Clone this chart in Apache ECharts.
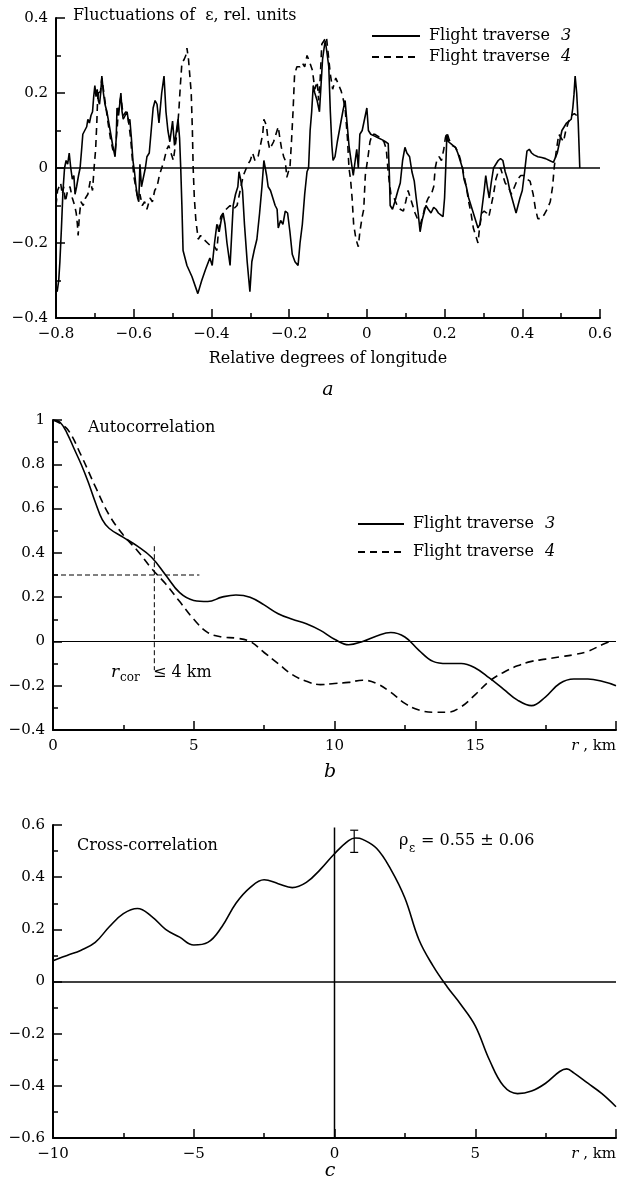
<!DOCTYPE html>
<html><head><meta charset="utf-8">
<script src="https://cdn.jsdelivr.net/npm/echarts@6/dist/echarts.min.js"></script>
<style>html,body{margin:0;padding:0;background:#fff}#c{width:619px;height:1191px}</style>
</head><body><div id="c"></div>
<script>
// ---------- Panel a: fluctuations of epsilon vs relative longitude ----------
const trav3Fluct = [[-0.800,-0.32],[-0.797,-0.33],[-0.793,-0.30],[-0.790,-0.25],[-0.786,-0.16],[-0.782,-0.06],[-0.778,0.00],[-0.774,0.02],[-0.770,0.01],[-0.766,0.04],[-0.762,0.00],[-0.758,-0.03],[-0.754,-0.02],[-0.751,-0.07],[-0.747,-0.05],[-0.742,-0.02],[-0.738,0.00],[-0.734,0.05],[-0.731,0.09],[-0.726,0.10],[-0.721,0.11],[-0.718,0.13],[-0.714,0.12],[-0.710,0.14],[-0.706,0.15],[-0.703,0.19],[-0.700,0.22],[-0.697,0.19],[-0.694,0.21],[-0.691,0.18],[-0.688,0.17],[-0.685,0.20],[-0.682,0.245],[-0.678,0.20],[-0.674,0.17],[-0.669,0.15],[-0.664,0.12],[-0.659,0.09],[-0.654,0.06],[-0.648,0.03],[-0.645,0.08],[-0.643,0.16],[-0.639,0.14],[-0.636,0.17],[-0.633,0.20],[-0.630,0.15],[-0.627,0.13],[-0.622,0.14],[-0.617,0.15],[-0.613,0.12],[-0.610,0.13],[-0.606,0.08],[-0.602,0.02],[-0.598,-0.01],[-0.594,-0.05],[-0.590,-0.08],[-0.587,-0.09],[-0.584,0.01],[-0.580,-0.05],[-0.576,-0.03],[-0.570,0.00],[-0.566,0.03],[-0.560,0.04],[-0.555,0.10],[-0.550,0.16],[-0.545,0.18],[-0.540,0.17],[-0.535,0.12],[-0.528,0.20],[-0.522,0.245],[-0.517,0.15],[-0.512,0.10],[-0.507,0.07],[-0.500,0.125],[-0.495,0.06],[-0.490,0.10],[-0.486,0.13],[-0.482,0.08],[-0.479,0.00],[-0.476,-0.10],[-0.473,-0.22],[-0.468,-0.24],[-0.463,-0.26],[-0.450,-0.29],[-0.435,-0.335],[-0.425,-0.30],[-0.415,-0.27],[-0.404,-0.24],[-0.398,-0.26],[-0.392,-0.20],[-0.386,-0.15],[-0.380,-0.17],[-0.375,-0.14],[-0.370,-0.12],[-0.365,-0.15],[-0.360,-0.20],[-0.352,-0.26],[-0.348,-0.18],[-0.344,-0.10],[-0.338,-0.07],[-0.332,-0.05],[-0.329,-0.01],[-0.325,-0.03],[-0.320,-0.06],[-0.315,-0.15],[-0.308,-0.25],[-0.301,-0.33],[-0.296,-0.25],[-0.290,-0.22],[-0.283,-0.19],[-0.276,-0.12],[-0.270,-0.05],[-0.265,0.02],[-0.262,0.025],[-0.258,-0.02],[-0.254,-0.05],[-0.248,-0.06],[-0.242,-0.08],[-0.236,-0.10],[-0.231,-0.11],[-0.228,-0.16],[-0.222,-0.14],[-0.216,-0.15],[-0.210,-0.115],[-0.204,-0.12],[-0.198,-0.17],[-0.192,-0.23],[-0.185,-0.25],[-0.177,-0.26],[-0.172,-0.20],[-0.166,-0.15],[-0.160,-0.07],[-0.154,-0.01],[-0.150,0.00],[-0.146,0.10],[-0.142,0.15],[-0.138,0.22],[-0.134,0.20],[-0.128,0.18],[-0.122,0.15],[-0.118,0.22],[-0.114,0.29],[-0.110,0.32],[-0.107,0.34],[-0.103,0.31],[-0.098,0.27],[-0.094,0.15],[-0.090,0.06],[-0.087,0.02],[-0.082,0.03],[-0.076,0.07],[-0.069,0.11],[-0.062,0.15],[-0.056,0.18],[-0.051,0.12],[-0.046,0.06],[-0.042,0.03],[-0.035,-0.02],[-0.030,0.02],[-0.026,0.05],[-0.022,0.00],[-0.018,0.09],[-0.012,0.10],[-0.006,0.13],[0.000,0.16],[0.004,0.10],[0.010,0.09],[0.020,0.085],[0.030,0.08],[0.040,0.075],[0.048,0.07],[0.055,0.065],[0.058,-0.02],[0.060,-0.10],[0.066,-0.11],[0.072,-0.09],[0.080,-0.06],[0.086,-0.04],[0.092,0.02],[0.098,0.055],[0.103,0.04],[0.110,0.03],[0.116,-0.01],[0.122,-0.035],[0.127,-0.08],[0.132,-0.12],[0.137,-0.17],[0.142,-0.14],[0.147,-0.12],[0.152,-0.10],[0.158,-0.11],[0.165,-0.12],[0.172,-0.105],[0.178,-0.11],[0.184,-0.12],[0.190,-0.125],[0.196,-0.13],[0.200,-0.08],[0.203,0.00],[0.206,0.09],[0.210,0.07],[0.216,0.065],[0.222,0.06],[0.228,0.055],[0.234,0.04],[0.240,0.02],[0.246,0.00],[0.250,-0.03],[0.256,-0.05],[0.262,-0.08],[0.268,-0.10],[0.274,-0.12],[0.280,-0.14],[0.286,-0.16],[0.291,-0.15],[0.296,-0.11],[0.302,-0.06],[0.306,-0.02],[0.310,-0.05],[0.315,-0.08],[0.320,-0.04],[0.326,0.00],[0.332,0.01],[0.338,0.02],[0.344,0.025],[0.350,0.02],[0.356,-0.01],[0.362,-0.03],[0.368,-0.06],[0.376,-0.09],[0.384,-0.12],[0.389,-0.12],[0.394,-0.08],[0.400,-0.06],[0.406,-0.01],[0.412,0.045],[0.418,0.05],[0.424,0.04],[0.430,0.035],[0.440,0.03],[0.450,0.028],[0.460,0.025],[0.470,0.02],[0.480,0.015],[0.484,0.02],[0.490,0.04],[0.496,0.07],[0.502,0.10],[0.508,0.11],[0.514,0.12],[0.520,0.125],[0.526,0.13],[0.530,0.16],[0.533,0.195],[0.536,0.245],[0.540,0.20],[0.544,0.12],[0.548,0.00]];
const trav4Fluct = [[-0.800,-0.10],[-0.796,-0.06],[-0.792,-0.05],[-0.788,-0.04],[-0.784,-0.07],[-0.780,-0.05],[-0.776,-0.09],[-0.770,-0.06],[-0.764,-0.05],[-0.758,-0.08],[-0.752,-0.10],[-0.748,-0.12],[-0.745,-0.15],[-0.743,-0.18],[-0.740,-0.13],[-0.736,-0.09],[-0.730,-0.10],[-0.724,-0.08],[-0.718,-0.07],[-0.712,-0.035],[-0.706,-0.06],[-0.702,0.00],[-0.698,0.05],[-0.695,0.12],[-0.693,0.18],[-0.690,0.21],[-0.686,0.20],[-0.682,0.24],[-0.678,0.21],[-0.674,0.18],[-0.670,0.15],[-0.666,0.12],[-0.660,0.08],[-0.654,0.05],[-0.648,0.04],[-0.643,0.10],[-0.639,0.16],[-0.633,0.19],[-0.627,0.14],[-0.620,0.15],[-0.614,0.13],[-0.608,0.08],[-0.604,0.03],[-0.600,-0.02],[-0.595,-0.05],[-0.590,-0.08],[-0.584,-0.07],[-0.578,-0.10],[-0.572,-0.09],[-0.566,-0.11],[-0.563,-0.115],[-0.558,-0.08],[-0.552,-0.09],[-0.546,-0.06],[-0.540,-0.05],[-0.534,-0.02],[-0.528,0.00],[-0.522,0.02],[-0.515,0.05],[-0.510,0.06],[-0.504,0.04],[-0.498,0.02],[-0.493,0.06],[-0.488,0.10],[-0.484,0.15],[-0.480,0.22],[-0.476,0.28],[-0.470,0.29],[-0.466,0.30],[-0.463,0.32],[-0.459,0.29],[-0.455,0.29],[-0.452,0.20],[-0.449,0.10],[-0.447,0.00],[-0.444,-0.08],[-0.440,-0.14],[-0.434,-0.19],[-0.428,-0.18],[-0.420,-0.19],[-0.410,-0.20],[-0.400,-0.21],[-0.392,-0.21],[-0.386,-0.22],[-0.382,-0.17],[-0.376,-0.13],[-0.370,-0.12],[-0.362,-0.11],[-0.352,-0.10],[-0.344,-0.11],[-0.334,-0.10],[-0.326,-0.06],[-0.318,-0.02],[-0.310,0.00],[-0.306,0.01],[-0.300,0.02],[-0.294,0.04],[-0.288,0.02],[-0.280,0.03],[-0.274,0.06],[-0.268,0.09],[-0.265,0.13],[-0.261,0.12],[-0.258,0.11],[-0.254,0.07],[-0.250,0.05],[-0.246,0.055],[-0.240,0.07],[-0.234,0.09],[-0.228,0.11],[-0.224,0.08],[-0.220,0.055],[-0.214,0.03],[-0.210,0.02],[-0.206,-0.025],[-0.202,-0.01],[-0.198,0.00],[-0.194,0.07],[-0.190,0.15],[-0.186,0.25],[-0.180,0.27],[-0.172,0.27],[-0.166,0.28],[-0.160,0.27],[-0.154,0.30],[-0.148,0.285],[-0.140,0.26],[-0.134,0.21],[-0.128,0.23],[-0.124,0.18],[-0.120,0.24],[-0.116,0.33],[-0.110,0.34],[-0.104,0.35],[-0.100,0.31],[-0.094,0.25],[-0.088,0.21],[-0.080,0.24],[-0.072,0.22],[-0.066,0.205],[-0.060,0.18],[-0.056,0.16],[-0.050,0.08],[-0.046,0.00],[-0.042,-0.03],[-0.038,-0.08],[-0.034,-0.15],[-0.028,-0.19],[-0.022,-0.21],[-0.018,-0.17],[-0.012,-0.13],[-0.008,-0.11],[-0.004,-0.02],[0.003,0.03],[0.008,0.07],[0.014,0.09],[0.020,0.09],[0.028,0.085],[0.036,0.08],[0.044,0.07],[0.050,0.05],[0.054,0.00],[0.058,-0.04],[0.062,-0.07],[0.070,-0.08],[0.078,-0.10],[0.086,-0.11],[0.094,-0.115],[0.100,-0.09],[0.106,-0.06],[0.112,-0.08],[0.118,-0.10],[0.124,-0.12],[0.132,-0.14],[0.138,-0.15],[0.142,-0.15],[0.146,-0.12],[0.150,-0.10],[0.158,-0.08],[0.166,-0.07],[0.172,-0.05],[0.176,0.00],[0.180,0.02],[0.186,0.03],[0.192,0.02],[0.198,0.05],[0.202,0.08],[0.206,0.095],[0.212,0.075],[0.220,0.06],[0.228,0.055],[0.236,0.04],[0.244,0.01],[0.250,-0.02],[0.256,-0.05],[0.262,-0.09],[0.268,-0.12],[0.274,-0.16],[0.280,-0.18],[0.286,-0.20],[0.290,-0.16],[0.296,-0.12],[0.302,-0.115],[0.308,-0.12],[0.314,-0.13],[0.320,-0.10],[0.326,-0.07],[0.332,-0.03],[0.338,-0.01],[0.344,0.00],[0.350,-0.02],[0.356,-0.04],[0.364,-0.05],[0.372,-0.07],[0.380,-0.05],[0.388,-0.03],[0.396,-0.02],[0.404,-0.02],[0.412,-0.03],[0.420,-0.035],[0.428,-0.07],[0.434,-0.11],[0.440,-0.135],[0.448,-0.135],[0.456,-0.125],[0.464,-0.11],[0.472,-0.09],[0.478,-0.05],[0.482,0.00],[0.488,0.05],[0.494,0.09],[0.500,0.08],[0.506,0.07],[0.512,0.10],[0.518,0.12],[0.526,0.14],[0.534,0.145],[0.540,0.14]];

// ---------- Panel b: autocorrelation ----------
const autoR3 = [0,0.25,0.5,0.75,1,1.25,1.5,1.75,2,2.5,3,3.5,4,4.5,5,5.5,6,6.5,7,7.5,8,8.5,9,9.5,10,10.5,11,11.5,12,12.5,13,13.5,14,14.5,15,15.5,16,16.5,17,17.5,18,18.5,19,19.5,20];
const auto3 = [1,0.99,0.94,0.87,0.80,0.72,0.63,0.55,0.51,0.47,0.43,0.38,0.30,0.22,0.185,0.18,0.20,0.21,0.20,0.165,0.125,0.10,0.08,0.05,0.01,-0.015,0.0,0.025,0.04,0.02,-0.04,-0.09,-0.10,-0.10,-0.12,-0.165,-0.215,-0.265,-0.29,-0.25,-0.19,-0.17,-0.17,-0.18,-0.20];
const autoR4 = [0,0.5,1,1.5,2,2.5,3,3.5,4,4.5,5,5.5,6,6.5,7,7.5,8,8.5,9,9.5,10,10.5,11,11.5,12,12.5,13,13.5,14,14.5,15,15.5,16,16.5,17,17.5,18,18.5,19,19.5,19.8];
const auto4 = [1,0.96,0.84,0.70,0.57,0.48,0.41,0.33,0.26,0.18,0.10,0.04,0.02,0.015,0.0,-0.05,-0.10,-0.15,-0.18,-0.195,-0.19,-0.185,-0.175,-0.19,-0.23,-0.28,-0.31,-0.32,-0.32,-0.295,-0.24,-0.18,-0.14,-0.11,-0.09,-0.08,-0.07,-0.06,-0.045,-0.015,0.0];
const rcorHorizontal = [[0,0.3],[5.2,0.3]];
const rcorVertical = [[3.6,0.43],[3.6,-0.13]];

// ---------- Panel c: cross-correlation ----------
const crossR = [-10,-9.5,-9,-8.5,-8,-7.5,-7,-6.5,-6,-5.5,-5,-4.5,-4,-3.5,-3,-2.5,-2,-1.5,-1,-0.5,0,0.5,0.75,1,1.5,2,2.5,3,3.5,4,4.5,5,5.5,6,6.5,7,7.5,8,8.25,8.5,9,9.5,10];
const crossVal = [0.08,0.10,0.12,0.15,0.21,0.26,0.28,0.25,0.20,0.17,0.14,0.15,0.21,0.30,0.36,0.39,0.375,0.36,0.38,0.43,0.49,0.54,0.55,0.545,0.51,0.43,0.32,0.16,0.06,-0.02,-0.09,-0.17,-0.30,-0.40,-0.43,-0.42,-0.39,-0.345,-0.335,-0.35,-0.39,-0.43,-0.48];
const crossErr = [[0.7,0.495,0.58]];
const crossZeroVertical = [[0,-0.6],[0,0.59]];

// axis ranges / tick steps
const axA = {xMin:-0.8, xMax:0.6, xStep:0.2, yMin:-0.4, yMax:0.4, yStep:0.2};
const axB = {xMin:0, xMax:20, xStep:5, yMin:-0.4, yMax:1, yStep:0.2};
const axC = {xMin:-10, xMax:10, xStep:5, yMin:-0.6, yMax:0.6, yStep:0.2};

const FONT = '"DejaVu Serif", "Liberation Serif", serif';
const fmt = v => String(Math.round(v*100)/100).replace('-', '\u2212');
const pair = (xs, ys) => xs.map((x,i)=>[x, ys[i]]);

function xAxisCfg(gi, ax, lastLabel){
  return {type:'value', gridIndex:gi, min:ax.xMin, max:ax.xMax, interval:ax.xStep,
    axisLine:{show:true, onZero:false, lineStyle:{color:'#000', width:2}},
    axisTick:{show:true, inside:true, length:9, lineStyle:{color:'#000', width:1.5}},
    minorTick:{show:true, splitNumber:2, length:5, lineStyle:{color:'#000', width:1.5}},
    splitLine:{show:false},
    axisLabel:{color:'#000', fontFamily:FONT, fontSize:15, margin:9,
      alignMaxLabel: lastLabel ? 'right' : null,
      formatter: v => (lastLabel && Math.abs(v-ax.xMax)<1e-9) ? '{i|r} , km' : fmt(v),
      rich:{i:{fontStyle:'italic', fontFamily:FONT, fontSize:15, color:'#000'}}}
  };
}
function yAxisCfg(gi, ax){
  return {type:'value', gridIndex:gi, min:ax.yMin, max:ax.yMax, interval:ax.yStep,
    axisLine:{show:true, onZero:false, lineStyle:{color:'#000', width:2}},
    axisTick:{show:true, inside:true, length:9, lineStyle:{color:'#000', width:1.5}},
    minorTick:{show:true, splitNumber:2, length:5, lineStyle:{color:'#000', width:1.5}},
    splitLine:{show:false},
    axisLabel:{color:'#000', fontFamily:FONT, fontSize:15, margin:8, formatter: fmt}
  };
}

const legendText = {color:'#000', fontFamily:FONT, fontSize:16, padding:[0,0,0,4],
  rich:{i:{fontStyle:'italic', fontFamily:FONT, fontSize:16, color:'#000', padding:[0,0,0,6]}}};
const legendFmt = n => n.replace(/\s(\d)$/, ' {i|$1}');
const legendItem = {color:'transparent', borderColor:'transparent', borderWidth:0, opacity:0};

const chart = echarts.init(document.getElementById('c'), null, {renderer:'canvas'});
const zeroLine = w => ({silent:true, symbol:['none','none'], label:{show:false},
  lineStyle:{color:'#000', width:w, type:'solid'}, emphasis:{disabled:true}, data:[{yAxis:0}]});

chart.setOption({
  animation:false,
  backgroundColor:'#fff',
  grid:[
    {left:56, top:18, width:544, height:300},
    {left:53, top:420, width:565, height:310},
    {left:53, top:825, width:565, height:313}
  ],
  xAxis:[
    Object.assign(xAxisCfg(0, axA, false), {name:'Relative degrees of longitude', nameLocation:'middle', nameGap:33,
      nameTextStyle:{color:'#000', fontFamily:FONT, fontSize:16}}),
    xAxisCfg(1, axB, true),
    xAxisCfg(2, axC, true)
  ],
  yAxis:[yAxisCfg(0, axA), yAxisCfg(1, axB), yAxisCfg(2, axC)],
  legend:[
    {data:['Flight traverse 3','Flight traverse 4'], orient:'vertical', left:366, top:23,
      itemWidth:48, itemHeight:12, itemGap:5, selectedMode:false, formatter:legendFmt, textStyle:legendText,
      itemStyle:legendItem},
    {data:['Flight traverse 3','Flight traverse 4'], orient:'vertical', left:352, top:511,
      itemWidth:46, itemHeight:12, itemGap:12, selectedMode:false, formatter:legendFmt, textStyle:legendText,
      itemStyle:legendItem}
  ],
  series:[
    {name:'Flight traverse 3', type:'line', xAxisIndex:0, yAxisIndex:0, data:trav3Fluct, symbol:'none', showSymbol:false,
      itemStyle:{color:'#000'}, lineStyle:{color:'#000', width:1.6}, markLine:zeroLine(1.5)},
    {name:'Flight traverse 4', type:'line', xAxisIndex:0, yAxisIndex:0, data:trav4Fluct, symbol:'none', showSymbol:false,
      itemStyle:{color:'#000'}, lineStyle:{color:'#000', width:1.6, type:[7,5]}},
    {name:'Flight traverse 3', type:'line', xAxisIndex:1, yAxisIndex:1, data:pair(autoR3, auto3), symbol:'none', smooth:0.4,
      itemStyle:{color:'#000'}, lineStyle:{color:'#000', width:1.6}, markLine:zeroLine(1)},
    {name:'Flight traverse 4', type:'line', xAxisIndex:1, yAxisIndex:1, data:pair(autoR4, auto4), symbol:'none', smooth:0.4,
      itemStyle:{color:'#000'}, lineStyle:{color:'#000', width:1.6, type:[8,5]}},
    {name:'rcorH', type:'line', xAxisIndex:1, yAxisIndex:1, data:rcorHorizontal, symbol:'none',
      lineStyle:{color:'#000', width:1, type:[5,3]}},
    {name:'rcorV', type:'line', xAxisIndex:1, yAxisIndex:1, data:rcorVertical, symbol:'none',
      lineStyle:{color:'#000', width:1, type:[5,3]}},
    {name:'Cross-correlation', type:'line', xAxisIndex:2, yAxisIndex:2, data:pair(crossR, crossVal), symbol:'none', smooth:0.4,
      lineStyle:{color:'#000', width:1.6}, markLine:zeroLine(1.5)},
    {name:'crossZero', type:'line', xAxisIndex:2, yAxisIndex:2, data:crossZeroVertical, symbol:'none',
      lineStyle:{color:'#000', width:1.5}},
    {name:'errorBar', type:'custom', xAxisIndex:2, yAxisIndex:2, data:crossErr, encode:{x:0, y:[1,2]},
      renderItem:(params, api) => {
        const x = api.value(0), lo = api.value(1), hi = api.value(2);
        const a = api.coord([x, lo]), b = api.coord([x, hi]);
        const st = {stroke:'#000', lineWidth:1.2};
        return {type:'group', children:[
          {type:'line', shape:{x1:a[0], y1:a[1], x2:b[0], y2:b[1]}, style:st},
          {type:'line', shape:{x1:a[0]-4, y1:a[1], x2:a[0]+4, y2:a[1]}, style:st},
          {type:'line', shape:{x1:b[0]-4, y1:b[1], x2:b[0]+4, y2:b[1]}, style:st}
        ]};
      }}
  ],
  graphic:[
    {type:'text', left:73, top:8, style:{text:'Fluctuations of  \u03b5, rel. units', font:'16px '+FONT, fill:'#000'}},
    {type:'text', x:328, y:390, style:{text:'a', font:'italic 19px '+FONT, fill:'#000', align:'center', verticalAlign:'middle'}},
    {type:'text', left:88, top:420, style:{text:'Autocorrelation', font:'16px '+FONT, fill:'#000'}},
    {type:'text', x:111, y:673, style:{text:'r', font:'italic 17px '+FONT, fill:'#000', verticalAlign:'middle'}},
    {type:'text', x:120, y:678, style:{text:'cor', font:'12px '+FONT, fill:'#000', verticalAlign:'middle'}},
    {type:'text', x:153, y:673, style:{text:'\u2264 4 km', font:'16px '+FONT, fill:'#000', verticalAlign:'middle'}},
    {type:'text', x:330, y:772, style:{text:'b', font:'italic 19px '+FONT, fill:'#000', align:'center', verticalAlign:'middle'}},
    {type:'text', left:77, top:838, style:{text:'Cross-correlation', font:'16px '+FONT, fill:'#000'}},
    {type:'text', x:399, y:841, style:{text:'\u03c1', font:'16px '+FONT, fill:'#000', verticalAlign:'middle'}},
    {type:'text', x:409, y:849, style:{text:'\u03b5', font:'12px '+FONT, fill:'#000', verticalAlign:'middle'}},
    {type:'text', x:421, y:841, style:{text:'= 0.55 \u00b1 0.06', font:'16px '+FONT, fill:'#000', verticalAlign:'middle'}},
    {type:'text', x:330, y:1171, style:{text:'c', font:'italic 19px '+FONT, fill:'#000', align:'center', verticalAlign:'middle'}}
  ]
});
</script></body></html>
